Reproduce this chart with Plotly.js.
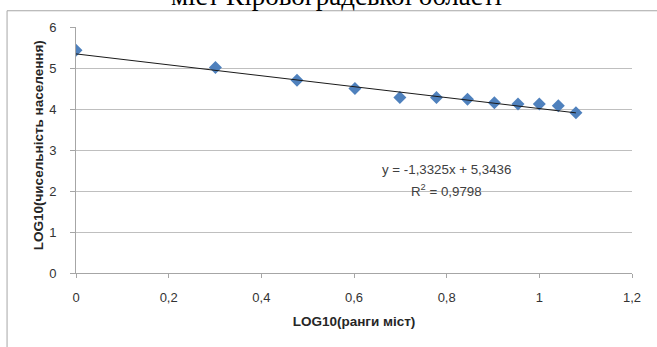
<!DOCTYPE html>
<html>
<head>
<meta charset="utf-8">
<script src="https://cdn.plot.ly/plotly-3.0.1.min.js"></script>
<style>html,body{margin:0;padding:0;background:#fff;}#chart{width:657px;height:347px;}</style>
</head>
<body>
<div id="chart"></div>
<script>
const logRanks = [0, 0.301, 0.477, 0.602, 0.699, 0.778, 0.845, 0.903, 0.954, 1.0, 1.041, 1.079];
const logPopulation = [5.43, 5.01, 4.70, 4.50, 4.28, 4.28, 4.24, 4.15, 4.12, 4.12, 4.08, 3.91];
const slope = -1.3325;
const intercept = 5.3436;
const rSquared = 0.9798;
const titleText = "міст Кіровоградської області";
const xTitle = "LOG10(ранги міст)";
const yTitle = "LOG10(чисельність населення)";
const xTicks = [0, 0.2, 0.4, 0.6, 0.8, 1, 1.2];
const yTicks = [0, 1, 2, 3, 4, 5, 6];

const trendX = [logRanks[0], logRanks[logRanks.length - 1]];
const trendY = trendX.map(x => slope * x + intercept);

const fmt = v => String(v).replace('.', ',');

const traces = [
  {x: logRanks, y: logPopulation, type: 'scatter', mode: 'markers',
   marker: {symbol: 'diamond', size: 10, color: '#4f81bd', line: {width: 0}}, hoverinfo: 'skip'},
  {x: trendX, y: trendY, type: 'scatter', mode: 'lines',
   line: {color: '#1a1a1a', width: 1}, hoverinfo: 'skip'}
];

const fam = 'Liberation Sans, Arial, sans-serif';
const tickFont = {family: fam, size: 13, color: '#333333'};
const titleFont = {family: fam, size: 13.5, color: '#262626', weight: 'bold'};
const eqFont = {family: fam, size: 13.3, color: '#404040'};
const layout = {
  width: 657, height: 347,
  margin: {l: 76, r: 25, t: 27, b: 74},
  paper_bgcolor: '#fff', plot_bgcolor: '#fff',
  showlegend: false,
  separators: ', ',
  font: tickFont,
  xaxis: {range: [0, 1.2], tickvals: xTicks, ticktext: xTicks.map(fmt),
    showgrid: false, zeroline: false, showline: true, linecolor: '#a6a6a6', linewidth: 1,
    ticks: 'outside', ticklen: 4, tickcolor: '#a6a6a6', tickfont: tickFont, ticklabelstandoff: 8,
    title: {text: xTitle, font: titleFont, standoff: 12}},
  yaxis: {range: [0, 6], tickvals: yTicks, ticktext: yTicks.map(v => fmt(v) + '\u00a0\u00a0\u00a0'),
    showgrid: true, gridcolor: '#bfbfbf', gridwidth: 1, zeroline: false,
    showline: true, linecolor: '#a6a6a6', linewidth: 1,
    ticks: 'outside', ticklen: 5, tickcolor: '#a6a6a6', tickfont: tickFont},
  shapes: [
    {type: 'line', xref: 'paper', yref: 'paper', x0: -0.124, x1: 1.2, y0: 1.066, y1: 1.066, line: {color: '#a6a6a6', width: 1}},
    {type: 'line', xref: 'paper', yref: 'paper', x0: -0.124, x1: -0.124, y0: -0.4, y1: 1.066, line: {color: '#a6a6a6', width: 1}}
  ],
  annotations: [
    {text: titleText, xref: 'paper', yref: 'paper', x: 0.468, y: 1.127, xanchor: 'center', yanchor: 'middle', showarrow: false,
     font: {family: 'Liberation Serif, Times New Roman, serif', size: 27, color: '#000'}},
    {text: yTitle, xref: 'paper', yref: 'paper', x: -0.068, y: 0.52, xanchor: 'center', yanchor: 'middle', textangle: -90, showarrow: false, font: titleFont},
    {text: 'y = ' + fmt(slope) + 'x + ' + fmt(intercept), xref: 'x', yref: 'y', x: 0.80, y: 2.53, xanchor: 'center', yanchor: 'middle', showarrow: false, font: eqFont},
    {text: 'R<sup>2</sup> = ' + fmt(rSquared), xref: 'x', yref: 'y', x: 0.80, y: 2.02, xanchor: 'center', yanchor: 'middle', showarrow: false, font: eqFont}
  ]
};
Plotly.newPlot('chart', traces, layout, {staticPlot: true, displayModeBar: false});
</script>
</body>
</html>
